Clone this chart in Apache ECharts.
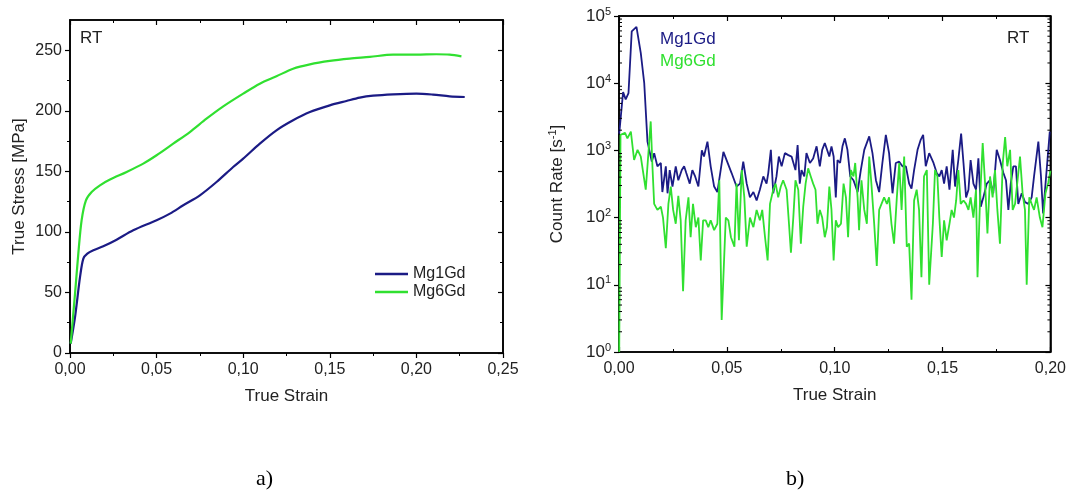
<!DOCTYPE html>
<html><head><meta charset="utf-8">
<script src="https://cdn.jsdelivr.net/npm/echarts@6/dist/echarts.min.js"></script>
<style>html,body{margin:0;padding:0;background:#fff}#c{width:1069px;height:492px}</style>
</head><body><div id="c"></div>
<script>
// ---------- data: a) true stress-strain ----------
const ssStrainMg1 = [0.0004,0.0029,0.0058,0.0077,0.0100,0.0135,0.0192,0.0269,0.0365,0.0500,0.0577,0.0654,0.0750,0.0846,0.0942,0.1000,0.1096,0.1192,0.1288,0.1385,0.1500,0.1596,0.1673,0.1750,0.1865,0.2000,0.2096,0.2192,0.2279];
const ssStressMg1 = [7.7,29.7,62.8,77.9,82.0,84.8,88.1,93.6,101.3,109.6,115.1,122.0,130.2,141.2,153.6,160.5,172.9,183.9,192.2,199.0,204.5,208.1,210.9,212.5,213.6,214.2,213.4,212.0,211.4];
const ssStrainMg6 = [0.0004,0.0029,0.0048,0.0067,0.0092,0.0125,0.0173,0.0231,0.0327,0.0423,0.0500,0.0596,0.0692,0.0788,0.0885,0.1000,0.1096,0.1192,0.1288,0.1385,0.1500,0.1615,0.1731,0.1865,0.2000,0.2115,0.2192,0.2260];
const ssStressMg6 = [7.7,49.0,82.0,109.6,126.1,133.0,138.5,143.2,149.5,156.4,163.3,172.9,182.5,193.5,203.7,214.2,222.4,228.5,234.8,238.4,241.2,243.1,244.5,246.4,246.4,246.7,246.4,245.0];

// ---------- data: b) acoustic emission count rate ----------
const crStrainMg1 = [0.0001,0.0019,0.0031,0.0044,0.0059,0.0081,0.0101,0.0117,0.0132,0.0152,0.0163,0.0178,0.0194,0.0201,0.0217,0.0225,0.0235,0.0248,0.0263,0.0275,0.0291,0.0302,0.0312,0.0328,0.0340,0.0353,0.0368,0.0384,0.0394,0.0410,0.0425,0.0441,0.0456,0.0484,0.0522,0.0545,0.0561,0.0576,0.0592,0.0607,0.0623,0.0638,0.0653,0.0669,0.0684,0.0692,0.0704,0.0715,0.0730,0.0741,0.0754,0.0769,0.0785,0.0800,0.0818,0.0828,0.0838,0.0846,0.0859,0.0869,0.0885,0.0900,0.0916,0.0931,0.0942,0.0954,0.0975,0.0985,0.0995,0.1005,0.1013,0.1025,0.1036,0.1047,0.1059,0.1072,0.1087,0.1106,0.1121,0.1137,0.1160,0.1175,0.1191,0.1206,0.1221,0.1237,0.1252,0.1268,0.1283,0.1299,0.1314,0.1330,0.1345,0.1356,0.1368,0.1384,0.1399,0.1410,0.1422,0.1438,0.1458,0.1473,0.1485,0.1496,0.1507,0.1519,0.1532,0.1547,0.1558,0.1573,0.1586,0.1597,0.1609,0.1620,0.1630,0.1643,0.1655,0.1666,0.1677,0.1689,0.1705,0.1720,0.1735,0.1751,0.1766,0.1782,0.1794,0.1805,0.1816,0.1828,0.1840,0.1851,0.1867,0.1882,0.1898,0.1913,0.1924,0.1944,0.1956,0.1966,0.1997];
const crCountMg1 = [1780,7400,5750,7100,59000,69000,28000,10000,1350,680,910,580,650,240,580,230,510,290,580,360,510,580,460,320,510,410,290,1000,810,1350,580,290,240,950,460,290,320,680,320,200,240,180,260,410,320,460,1020,230,410,810,580,910,850,810,510,1200,320,510,410,910,650,760,1150,580,1020,1290,810,1150,810,200,720,650,1150,1510,1020,410,360,240,510,1020,1620,910,360,240,650,1700,910,230,650,680,580,580,320,270,510,1020,1450,1700,580,910,650,460,410,510,320,580,260,1020,290,720,1780,650,200,260,720,320,260,760,145,200,320,360,230,1020,720,460,360,130,320,580,580,160,230,170,160,200,410,1350,420,115,1900];
const crStrainMg6 = [0.0001,0.0007,0.0028,0.0039,0.0055,0.0070,0.0086,0.0101,0.0124,0.0147,0.0155,0.0163,0.0178,0.0194,0.0204,0.0217,0.0229,0.0240,0.0251,0.0263,0.0275,0.0286,0.0297,0.0309,0.0322,0.0332,0.0343,0.0356,0.0368,0.0379,0.0390,0.0402,0.0414,0.0425,0.0441,0.0456,0.0465,0.0476,0.0495,0.0507,0.0519,0.0535,0.0545,0.0556,0.0569,0.0581,0.0592,0.0607,0.0623,0.0638,0.0653,0.0664,0.0677,0.0689,0.0700,0.0715,0.0726,0.0738,0.0750,0.0761,0.0777,0.0788,0.0797,0.0808,0.0818,0.0831,0.0843,0.0854,0.0865,0.0877,0.0889,0.0900,0.0911,0.0920,0.0931,0.0942,0.0954,0.0964,0.0975,0.0985,0.0995,0.1005,0.1016,0.1029,0.1041,0.1052,0.1062,0.1075,0.1087,0.1095,0.1106,0.1113,0.1124,0.1137,0.1149,0.1160,0.1170,0.1183,0.1195,0.1206,0.1217,0.1229,0.1242,0.1252,0.1263,0.1275,0.1288,0.1299,0.1310,0.1322,0.1334,0.1345,0.1356,0.1368,0.1380,0.1391,0.1402,0.1414,0.1427,0.1438,0.1455,0.1465,0.1476,0.1485,0.1496,0.1507,0.1519,0.1532,0.1542,0.1553,0.1563,0.1573,0.1584,0.1597,0.1609,0.1620,0.1630,0.1643,0.1655,0.1662,0.1674,0.1686,0.1697,0.1708,0.1720,0.1732,0.1743,0.1754,0.1766,0.1779,0.1790,0.1800,0.1813,0.1825,0.1836,0.1846,0.1859,0.1871,0.1882,0.1890,0.1902,0.1913,0.1924,0.1936,0.1951,0.1963,0.1977,0.1990,0.2000];
const crCountMg6 = [1,1700,1820,1510,1900,720,1020,810,260,2700,580,160,130,145,100,35,160,290,130,81,210,91,8,91,200,51,160,72,100,23,91,91,72,91,65,81,360,3,100,91,51,37,320,46,510,200,37,100,72,130,91,130,51,23,160,260,320,200,290,360,260,81,30,100,360,260,41,145,320,540,410,320,260,81,130,100,51,72,290,130,23,91,72,81,320,200,51,510,410,650,200,65,360,130,81,810,320,81,19,130,160,200,160,200,81,41,200,650,130,810,37,41,6,180,260,130,13,410,510,10,81,510,410,100,26,91,46,81,130,100,180,510,160,180,160,130,200,100,260,13,200,1290,320,58,410,200,510,130,41,650,1580,580,1020,130,160,320,810,230,130,10,200,160,130,200,100,72,230,330,500];

// ---------- axis ranges and tick values ----------
const strainMaxA = 0.25, stressMax = 275;
const strainMaxB = 0.2, countMin = 1, countMax = 100000;
const stressTicks = [0,50,100,150,200,250];
const logMinorTicks = [2,3,4,5,6,7,8,9,20,30,40,50,60,70,80,90,200,300,400,500,600,700,800,900,2000,3000,4000,5000,6000,7000,8000,9000,20000,30000,40000,50000,60000,70000,80000,90000];

const zip = (a, b) => a.map((v, i) => [v, b[i]]);
const BLUE = '#1b1b85', GREEN = '#30e030';
const FONT = 'Liberation Sans, Arial, sans-serif';
const TXT = '#222';
const fmtStrain = v => v.toFixed(2).replace('.', ',');
const axLine = () => ({show: true, onZero: false, lineStyle: {color: '#000', width: 1.6}});
const tick = (inside, len) => ({show: true, inside: inside, length: len, lineStyle: {color: '#000', width: 1.2}});
const minor = () => ({show: true, splitNumber: 2, length: 3, lineStyle: {color: '#000', width: 1}});

function seg(x1, y1, x2, y2, w) {
  return {type: 'line', shape: {x1: x1, y1: y1, x2: x2, y2: y2}, style: {stroke: '#000', lineWidth: w}};
}
// log minor ticks on both sides of plot b, placed through the log axis
function logMinor(params, api) {
  const c = [];
  logMinorTicks.forEach(v => {
    const pl = api.coord([0, v]), pr = api.coord([strainMaxB, v]);
    c.push(seg(pl[0], pl[1], pl[0] + 3, pl[1], 1));
    c.push(seg(pr[0], pr[1], pr[0] - 3, pr[1], 1));
  });
  return {type: 'group', children: c};
}

const chart = echarts.init(document.getElementById('c'), null, {renderer: 'canvas'});

function xMain(gi, max, inside) {
  return {
    type: 'value', gridIndex: gi, position: 'bottom', min: 0, max: max, interval: 0.05,
    axisLine: axLine(), splitLine: {show: false},
    axisTick: tick(inside, 5), minorTick: minor(),
    axisLabel: {formatter: fmtStrain, fontSize: 16, color: TXT, fontFamily: FONT, margin: 9},
    name: 'True Strain', nameLocation: 'middle', nameGap: 35,
    nameTextStyle: {fontSize: 17, color: TXT, fontFamily: FONT}
  };
}
function xTop(gi, max) {
  return {
    type: 'value', gridIndex: gi, position: 'top', min: 0, max: max, interval: 0.05,
    axisLine: axLine(), splitLine: {show: false},
    axisTick: tick(true, 5), minorTick: minor(), axisLabel: {show: false}
  };
}

const option = {
  animation: false,
  backgroundColor: '#fff',
  grid: [
    {left: 70, top: 20, width: 433, height: 333, show: true, borderColor: '#000', borderWidth: 1.6, backgroundColor: 'rgba(0,0,0,0)'},
    {left: 619, top: 16, width: 432, height: 336, show: true, borderColor: '#000', borderWidth: 1.6, backgroundColor: 'rgba(0,0,0,0)'}
  ],
  xAxis: [xMain(0, strainMaxA, false), xTop(0, strainMaxA), xMain(1, strainMaxB, true), xTop(1, strainMaxB)],
  yAxis: [
    {
      type: 'value', gridIndex: 0, position: 'left', min: 0, max: stressMax, interval: 50,
      axisLine: axLine(), splitLine: {show: false},
      axisTick: Object.assign(tick(false, 5), {customValues: stressTicks}), minorTick: minor(),
      axisLabel: {fontSize: 16, color: TXT, fontFamily: FONT, margin: 8, customValues: stressTicks},
      name: 'True Stress [MPa]', nameLocation: 'middle', nameGap: 42, nameRotate: 90,
      nameTextStyle: {fontSize: 17, color: TXT, fontFamily: FONT}
    },
    {
      type: 'value', gridIndex: 0, position: 'right', min: 0, max: stressMax, interval: 50,
      axisLine: axLine(), splitLine: {show: false},
      axisTick: Object.assign(tick(true, 5), {customValues: stressTicks}), minorTick: minor(),
      axisLabel: {show: false}
    },
    {
      type: 'log', logBase: 10, gridIndex: 1, position: 'left', min: countMin, max: countMax,
      axisLine: axLine(), splitLine: {show: false},
      axisTick: tick(false, 5),
      axisLabel: {
        fontSize: 17, color: TXT, fontFamily: FONT, margin: 8,
        formatter: v => '10{sup|' + Math.round(Math.log10(v)) + '}',
        rich: {sup: {fontSize: 11, color: TXT, fontFamily: FONT, verticalAlign: 'top', padding: [0, 0, 9, 0]}}
      },
      name: 'Count Rate [s{sup|-1}]', nameLocation: 'middle', nameGap: 52, nameRotate: 90,
      nameTextStyle: {fontSize: 17, color: TXT, fontFamily: FONT,
        rich: {sup: {fontSize: 11, color: TXT, fontFamily: FONT, padding: [0, 0, 9, 0]}}}
    },
    {
      type: 'log', logBase: 10, gridIndex: 1, position: 'right', min: countMin, max: countMax,
      axisLine: axLine(), splitLine: {show: false},
      axisTick: tick(true, 5), axisLabel: {show: false}
    }
  ],
  legend: {
    data: ['Mg1Gd', 'Mg6Gd'], orient: 'vertical', left: 370, top: 261,
    icon: 'rect', itemWidth: 33, itemHeight: 2.5, itemGap: 2, selectedMode: false,
    textStyle: {fontSize: 16, lineHeight: 16, color: TXT, fontFamily: FONT}
  },
  series: [
    {name: 'Mg1Gd', type: 'line', xAxisIndex: 0, yAxisIndex: 0, data: zip(ssStrainMg1, ssStressMg1),
      symbol: 'none', smooth: 0.3, lineStyle: {color: BLUE, width: 2.2}, itemStyle: {color: BLUE}},
    {name: 'Mg6Gd', type: 'line', xAxisIndex: 0, yAxisIndex: 0, data: zip(ssStrainMg6, ssStressMg6),
      symbol: 'none', smooth: 0.3, lineStyle: {color: GREEN, width: 2.2}, itemStyle: {color: GREEN}},
    {name: 'Mg1Gd', type: 'line', xAxisIndex: 2, yAxisIndex: 2, data: zip(crStrainMg1, crCountMg1),
      symbol: 'none', lineStyle: {color: BLUE, width: 1.8}, itemStyle: {color: BLUE}, z: 2},
    {name: 'Mg6Gd', type: 'line', xAxisIndex: 2, yAxisIndex: 2, data: zip(crStrainMg6, crCountMg6),
      symbol: 'none', lineStyle: {color: GREEN, width: 1.8}, itemStyle: {color: GREEN}, z: 3},
    {name: 'logMinor', type: 'custom', xAxisIndex: 2, yAxisIndex: 2, silent: true, clip: false, z: 5,
      data: [[0, 1]], encode: {x: 0, y: 1}, renderItem: logMinor}
  ],
  graphic: [
    {type: 'text', left: 80, top: 30, style: {text: 'RT', fontSize: 17, fill: TXT, fontFamily: FONT}},
    {type: 'text', left: 1007, top: 30, style: {text: 'RT', fontSize: 17, fill: TXT, fontFamily: FONT}},
    {type: 'text', left: 660, top: 31, style: {text: 'Mg1Gd', fontSize: 17, fill: BLUE, fontFamily: FONT}},
    {type: 'text', left: 660, top: 53, style: {text: 'Mg6Gd', fontSize: 17, fill: GREEN, fontFamily: FONT}},
    {type: 'text', left: 256, top: 468, style: {text: 'a)', fontSize: 22, fill: '#000', fontFamily: 'Liberation Serif, Times New Roman, serif'}},
    {type: 'text', left: 786, top: 468, style: {text: 'b)', fontSize: 22, fill: '#000', fontFamily: 'Liberation Serif, Times New Roman, serif'}}
  ]
};
chart.setOption(option);
</script>
</body></html>
